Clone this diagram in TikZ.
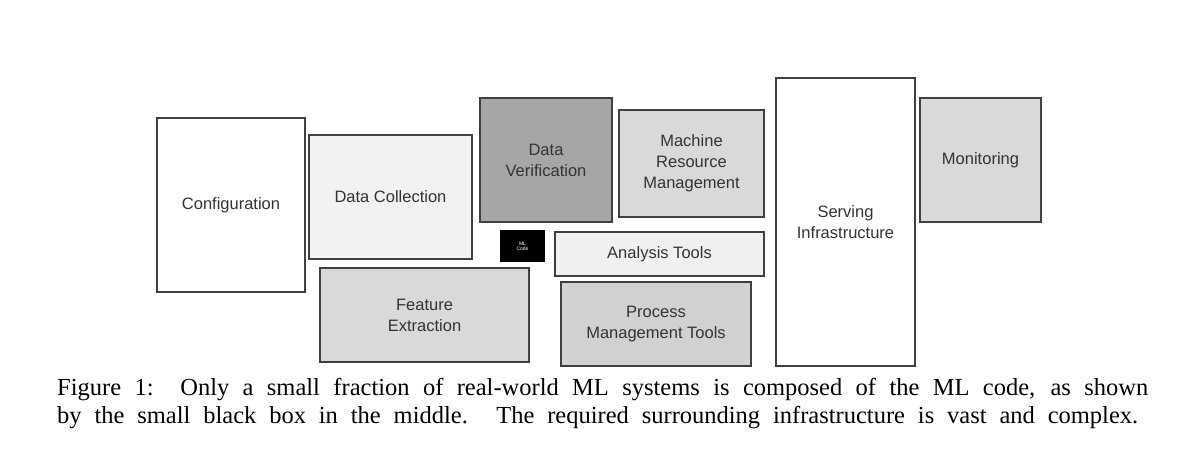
\documentclass[tikz,border=0pt]{standalone}
\usepackage{fontspec}
\setmainfont{Liberation Sans}
\newfontfamily\capfont{Liberation Serif}
\begin{document}
\begin{tikzpicture}[x=1pt,y=-1pt,
  box/.style={draw=black!75,line width=1.6pt,font=\fontsize{16.5}{21}\selectfont,text=black!80,align=center},
  captext/.style={anchor=west,inner sep=0,font=\capfont\fontsize{24.5}{26}\selectfont}]
\useasboundingbox (0,0) rectangle (1200,473);
\newcommand\bx[7]{\path[box,fill=#6] (#2,#3) rectangle node(#1){#7} (#4,#5);}
\bx{conf}{157}{118}{305}{292}{white}{Configuration}
\bx{dc}{309}{135}{472}{259}{black!5}{Data Collection}
\bx{dv}{480}{98}{612}{222}{black!35}{Data\\Verification}
\bx{mrm}{619}{110}{764}{217}{black!15}{Machine\\Resource\\Management}
\bx{at}{555}{232}{764}{276}{black!6}{Analysis Tools}
\bx{fe}{320}{268}{529}{362}{black!15}{Feature\\Extraction}
\bx{pm}{561}{282}{751}{366}{black!18}{Process\\Management Tools}
\bx{si}{776}{78}{915}{366}{white}{Serving\\Infrastructure}
\bx{mon}{920}{98}{1041}{222}{black!15}{Monitoring}
\path[fill=black] (500,230) rectangle node(ml)[text=white,font=\fontsize{5}{5}\selectfont,align=center]{ML\\Code} (545,262);
\node[captext] (c1) at (57,390) {\makebox[1091pt][s]{Figure 1:\ \ Only a small fraction of real-world ML systems is composed of the ML code, as shown}};
\node[captext] (c2) at (57,418) {\makebox[1081pt][s]{by the small black box in the middle. The required surrounding infrastructure is vast and complex.}};
\end{tikzpicture}
\end{document}
